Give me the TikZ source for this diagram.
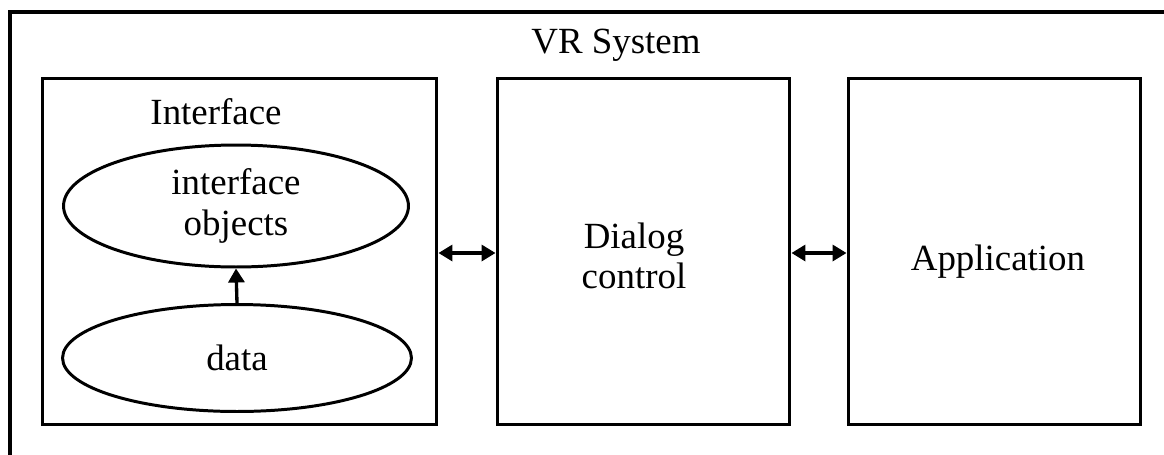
\documentclass[tikz,border=0pt]{standalone}
\usepackage{fontspec}
\setmainfont{Liberation Serif}
\usetikzlibrary{shapes.geometric, arrows.meta}

\begin{document}
\begin{tikzpicture}[
    x=0.02cm, y=-0.02cm,
    box/.style={
        draw, line width=1.7pt,
        minimum width=5.86cm, minimum height=6.94cm,
        align=center, inner sep=0pt
    },
    oval/.style={
        ellipse, draw, line width=1.7pt,
        minimum width=6.9cm, align=center, inner sep=0pt
    },
    txt/.style={font=\fontsize{21}{23}\selectfont, align=center},
    arrowstyle/.style={line width=1.9pt, >={Triangle[length=0.28cm, width=0.32cm]}}
]
\clip (0,0) rectangle (1164,454);

% Marco exterior (recortado a derecha y abajo)
\draw[line width=2.3pt] (10,12) rectangle (1180,470);
\node[txt] (vr) at (616,45) {VR System};

% Cajas principales
\node[box, minimum width=7.9cm] (iface) at (239.5,251.5) {};
\node[box] (dlg) at (643.5,251.5) {};
\node[box] (app) at (994.5,251.5) {};

% Textos de las cajas
\node[txt] (lblI) at (216,112) {Interface};
\node[txt] (lblD) at (634,256) {Dialog\\control};
\node[txt] (lblA) at (998,262) {Application};

% Contenido de la interfaz
\node[oval, txt, minimum height=2.44cm] (io) at (236,206) {interface\\objects};
\node[oval, txt, minimum width=6.98cm, minimum height=2.14cm] (data) at (237,358) {data};

% Flechas
\draw[arrowstyle, ->] (data.north) -- (io.south);
\draw[arrowstyle, <->] (iface.east |- 0,253) -- (dlg.west |- 0,253);
\draw[arrowstyle, <->] (dlg.east |- 0,253) -- (app.west |- 0,253);

\end{tikzpicture}
\end{document}
